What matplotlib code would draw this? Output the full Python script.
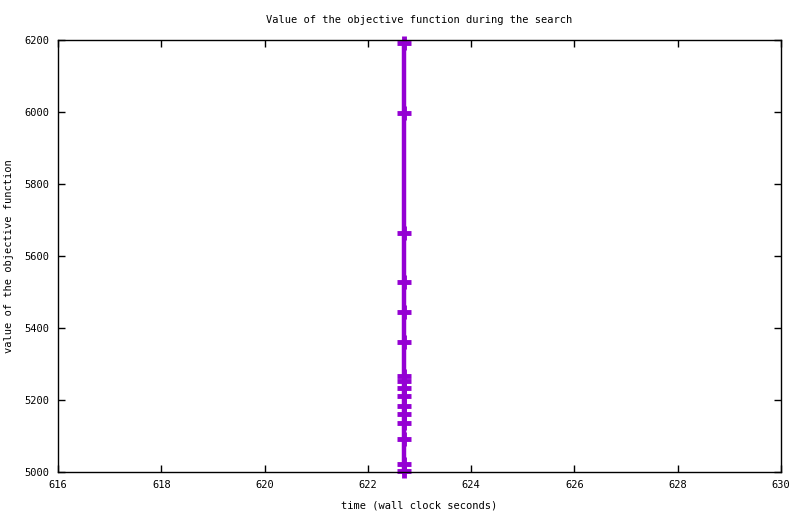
import matplotlib
matplotlib.use('Agg')
import matplotlib.pyplot as plt

# time (wall clock seconds) and objective value
times = [622.7] * 16
objective = [6192, 5997, 5664, 5528, 5444, 5361, 5267, 5253,
             5233, 5211, 5183, 5161, 5136, 5092, 5022, 5003]

x_ticks = list(range(616, 631, 2))
y_ticks = list(range(5000, 6201, 200))

plt.rcParams['font.family'] = ['DejaVu Sans Mono']

fig = plt.figure(figsize=(8.0, 5.14), dpi=100)
ax = fig.add_axes([0.0725, 0.0817, 0.90375, 0.8405])

# the search curve
ax.plot(times, objective, '-+', color='#9400D3', linewidth=3.2,
        markersize=10, markeredgewidth=3.5, clip_on=False)

ax.set_xlim(616, 630)
ax.set_ylim(5000, 6200)
ax.set_xticks(x_ticks)
ax.set_yticks(y_ticks)
ax.tick_params(direction='in', length=5, width=1, top=True, right=True,
               labelsize=7.5, pad=6)
for side in ax.spines.values():
    side.set_linewidth(1)

ax.set_title('Value of the objective function during the search', fontsize=7.5, pad=12)
ax.set_xlabel('time (wall clock seconds)', fontsize=7.5, labelpad=7)
ax.set_ylabel('value of the objective function', fontsize=7.5, labelpad=8)

fig.savefig('out.png', dpi=100)
